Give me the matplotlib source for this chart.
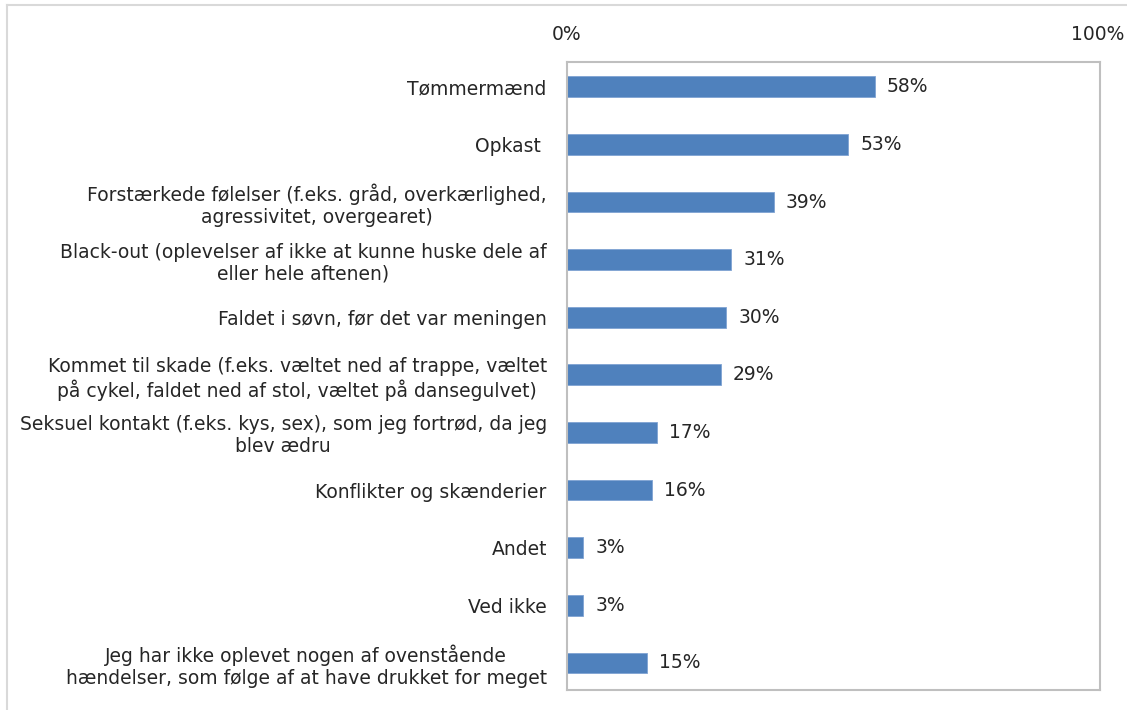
import matplotlib.pyplot as plt
from matplotlib.lines import Line2D

# Svar på: hvilke af følgende har du oplevet efter at have drukket for meget?
kategorier = [
    "Tømmermænd",
    "Opkast ",
    "Forstærkede følelser (f.eks. gråd, overkærlighed,\nagressivitet, overgearet)",
    "Black-out (oplevelser af ikke at kunne huske dele af\neller hele aftenen)",
    "Faldet i søvn, før det var meningen",
    "Kommet til skade (f.eks. væltet ned af trappe, væltet\npå cykel, faldet ned af stol, væltet på dansegulvet)",
    "Seksuel kontakt (f.eks. kys, sex), som jeg fortrød, da jeg\nblev ædru",
    "Konflikter og skænderier",
    "Andet",
    "Ved ikke",
    "Jeg har ikke oplevet nogen af ovenstående\nhændelser, som følge af at have drukket for meget",
]
andele = [58, 53, 39, 31, 30, 29, 17, 16, 3, 3, 15]
akse_ticks = [0, 100]
akse_labels = ["0%", "100%"]

plt.rcParams['font.family'] = ['DejaVu Sans']
tekstfarve = "#262626"
bjaelkefarve = "#4F81BD"
fs = 13.5

fig = plt.figure(figsize=(11.27, 7.10), dpi=100)
ax = fig.add_axes([567 / 1127, 1 - 690 / 710, (1100 - 567) / 1127, (690 - 62) / 710])

pos = list(range(len(kategorier)))
ax.barh(pos, andele, height=0.36, color=bjaelkefarve, edgecolor="#7FA3D3", linewidth=0.6)

for y, v in zip(pos, andele):
    ax.text(v + 2.3, y, f"{v}%", va="center", ha="left", fontsize=fs, color=tekstfarve)

ax.set_xlim(0, 100.5)
ax.set_ylim(len(kategorier) - 0.53, -0.43)

ax.set_yticks(pos)
ax.set_yticklabels(kategorier, fontsize=fs, color=tekstfarve)
for lbl in ax.get_yticklabels():
    lbl.set_multialignment("center")
ax.tick_params(axis="y", length=0, pad=14.5)

ax.xaxis.tick_top()
ax.set_xticks(akse_ticks)
ax.set_xticklabels(akse_labels, fontsize=fs, color=tekstfarve)
ax.tick_params(axis="x", length=0, pad=13)

for s in ax.spines.values():
    s.set_color("#BFBFBF")
    s.set_linewidth(1.5)

# ydre ramme (kun top og venstre ses)
fig.add_artist(Line2D([7 / 1127, 1], [1 - 5 / 710, 1 - 5 / 710], color="#D9D9D9", lw=1.5))
fig.add_artist(Line2D([7 / 1127, 7 / 1127], [0, 1 - 5 / 710], color="#D9D9D9", lw=1.5))

fig.savefig("out.png", dpi=100)
